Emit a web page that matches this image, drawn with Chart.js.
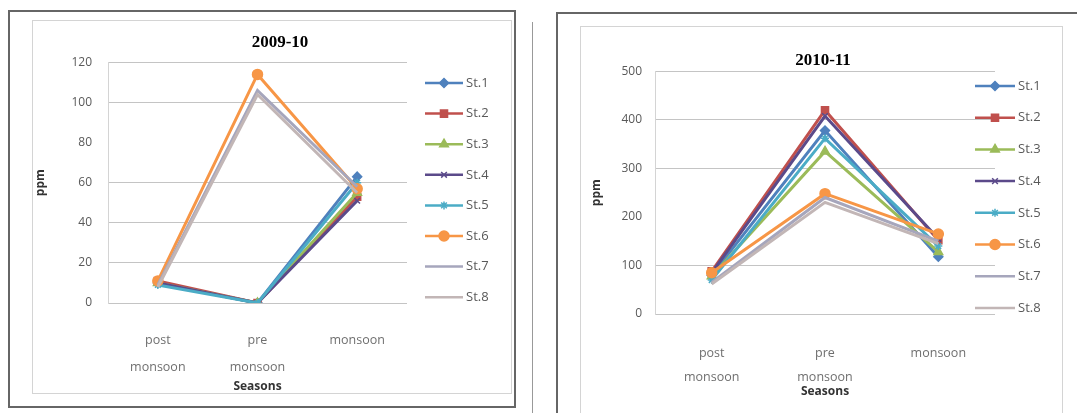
<!DOCTYPE html>
<html>
<head>
<meta charset="utf-8">
<script src="https://cdn.jsdelivr.net/npm/chart.js@4/dist/chart.umd.min.js"></script>
<style>
  html, body { margin: 0; padding: 0; background: #fff; }
  body { width: 1077px; height: 413px; position: relative; overflow: hidden; }
  .box { position: absolute; box-sizing: border-box; }
  .outer { border: 2px solid #666; }
  .inner { border: 1px solid #d4d4d4; }
  canvas { position: absolute; }
</style>
</head>
<body>
<div class="box outer" style="left:8px; top:10px; width:508px; height:398px;"></div>
<div class="box inner" style="left:32px; top:20px; width:480px; height:374px;"></div>
<div class="box" style="left:532px; top:22px; width:1px; height:391px; background:#999;"></div>
<div class="box outer" style="left:556px; top:12px; width:540px; height:420px;"></div>
<div class="box inner" style="left:580px; top:26px; width:483px; height:400px;"></div>

<canvas id="chartA" style="left:0px; top:20px;" width="560" height="376"></canvas>
<canvas id="chartB" style="left:569px; top:26px;" width="508" height="387"></canvas>

<script>
// seasons on the x axis
const categories = [['post', 'monsoon'], ['pre', 'monsoon'], 'monsoon'];
const stations = ['St.1', 'St.2', 'St.3', 'St.4', 'St.5', 'St.6', 'St.7', 'St.8'];

// 2009-10 (ppm): post monsoon, pre monsoon, monsoon
const st1_0910 = [10, 0, 63];
const st2_0910 = [11, 0, 53];
const st3_0910 = [10, 0, 55];
const st4_0910 = [10, 0, 51];
const st5_0910 = [9, 0, 60];
const st6_0910 = [11, 114, 57];
const st7_0910 = [9, 106, 58];
const st8_0910 = [8, 104, 55];
const yTicks0910 = [0, 20, 40, 60, 80, 100, 120];

// 2010-11 (ppm)
const st1_1011 = [80, 378, 118];
const st2_1011 = [88, 420, 152];
const st3_1011 = [78, 335, 128];
const st4_1011 = [85, 408, 155];
const st5_1011 = [70, 362, 140];
const st6_1011 = [85, 248, 165];
const st7_1011 = [65, 240, 150];
const st8_1011 = [62, 230, 145];
const yTicks1011 = [0, 100, 200, 300, 400, 500];

// excel 2007 look
const colors = ['#4F81BD', '#C0504D', '#9BBB59', '#5B4A8A', '#4BACC6', '#F79646', '#A6A6BC', '#C2B6B6'];
const markers = ['rectRot', 'rect', 'triangle', 'crossRot', 'star', 'circle', false, false];
const markerSize = [4.5, 5, 5, 4, 4, 5, 0, 0];

function makeDatasets(series) {
    return series.map((vals, i) => ({
        label: stations[i],
        data: vals,
        borderColor: colors[i],
        backgroundColor: colors[i],
        borderWidth: 3,
        pointStyle: markers[i],
        pointRadius: markerSize[i],
        pointBorderWidth: 1.5,
        tension: 0,
        order: series.length - i   // later series on top like excel
    }));
}

// legend drawn as line + marker like excel
const excelLegend = {
    id: 'excelLegend',
    afterDraw(chart, args, opts) {
        const ctx = chart.ctx;
        ctx.save();
        chart.data.datasets.forEach((ds, i) => {
            const y = opts.top + i * opts.gap;
            ctx.strokeStyle = ds.borderColor;
            ctx.fillStyle = ds.backgroundColor;
            ctx.lineWidth = 2.5;
            ctx.beginPath();
            ctx.moveTo(opts.x1, y);
            ctx.lineTo(opts.x2, y);
            ctx.stroke();
            if (ds.pointStyle && ds.pointRadius > 0) {
                ctx.lineWidth = 1.5;
                Chart.helpers.drawPoint(ctx, {
                    pointStyle: ds.pointStyle, radius: ds.pointRadius, rotation: 0, borderWidth: 1.5
                }, (opts.x1 + opts.x2) / 2, y);
            }
            ctx.fillStyle = '#595959';
            ctx.font = '13px "Open Sans"';
            ctx.textBaseline = 'middle';
            ctx.textAlign = 'left';
            ctx.fillText(ds.label, opts.x2 + 3, y);
        });
        ctx.restore();
    }
};

function makeChart(id, title, series, yTicks, hiddenGrid, lay) {
    return new Chart(document.getElementById(id), {
        type: 'line',
        data: { labels: categories, datasets: makeDatasets(series) },
        plugins: [excelLegend],
        options: {
            responsive: false,
            animation: false,
            layout: { padding: 0 },
            plugins: {
                legend: { display: false },
                tooltip: { enabled: false },
                title: {
                    display: true,
                    text: title,
                    color: '#000',
                    font: { family: '"Liberation Serif"', size: 17, weight: 'bold', lineHeight: 1.2 },
                    padding: lay.titlePad
                },
                excelLegend: lay.legend
            },
            scales: {
                x: {
                    offset: true,
                    grid: { display: false },
                    border: { display: false },
                    ticks: {
                        color: '#6f6f6f',
                        font: { family: '"Open Sans"', size: 12.5, lineHeight: lay.catLine },
                        padding: lay.catPad,
                        maxRotation: 0,
                        autoSkip: false
                    },
                    title: {
                        display: true,
                        text: 'Seasons',
                        color: '#333',
                        font: { family: '"Open Sans"', size: 12, weight: 'bold', lineHeight: 1.2 },
                        padding: { top: 0, bottom: lay.xTitlePad }
                    },
                    afterFit(s) { s.height = lay.xHeight; }
                },
                y: {
                    min: yTicks[0],
                    max: yTicks[yTicks.length - 1],
                    ticks: {
                        stepSize: yTicks[1] - yTicks[0],
                        color: '#595959',
                        font: { family: '"Open Sans"', size: 12 },
                        padding: lay.tickPad
                    },
                    grid: {
                        drawTicks: false,
                        color: c => hiddenGrid.includes(c.tick && c.tick.value) ? 'rgba(0,0,0,0)' : '#c4c4c4'
                    },
                    border: { display: true, color: '#d4d4d4' },
                    title: {
                        display: true,
                        text: 'ppm',
                        color: '#333',
                        font: { family: '"Open Sans"', size: 12, weight: 'bold', lineHeight: 1.2 },
                        padding: { top: lay.yTitlePad, bottom: 0 }
                    },
                    afterFit(s) { s.width = lay.yWidth; }
                },
                // empty right axis reserving room for the legend
                side: {
                    type: 'linear',
                    position: 'right',
                    grid: { display: false },
                    border: { display: false },
                    ticks: { display: false },
                    afterFit(s) { s.width = lay.rightWidth; }
                }
            }
        }
    });
}

makeChart('chartA', '2009-10',
    [st1_0910, st2_0910, st3_0910, st4_0910, st5_0910, st6_0910, st7_0910, st8_0910],
    yTicks0910, [80], {
        titlePad: { top: 12, bottom: 10 },
        yWidth: 108, rightWidth: 153, xHeight: 93,
        tickPad: 16, yTitlePad: 33,
        catPad: 16, catLine: 2.15, xTitlePad: 2,
        legend: { x1: 425, x2: 463, top: 63, gap: 30.6 }
    });

makeChart('chartB', '2010-11',
    [st1_1011, st2_1011, st3_1011, st4_1011, st5_1011, st6_1011, st7_1011, st8_1011],
    yTicks1011, [200], {
        titlePad: { top: 24, bottom: 1 },
        yWidth: 86, rightWidth: 82, xHeight: 99,
        tickPad: 13, yTitlePad: 20,
        catPad: 20, catLine: 1.9, xTitlePad: 14,
        legend: { x1: 406, x2: 446, top: 60, gap: 31.7 }
    });
</script>
</body>
</html>
